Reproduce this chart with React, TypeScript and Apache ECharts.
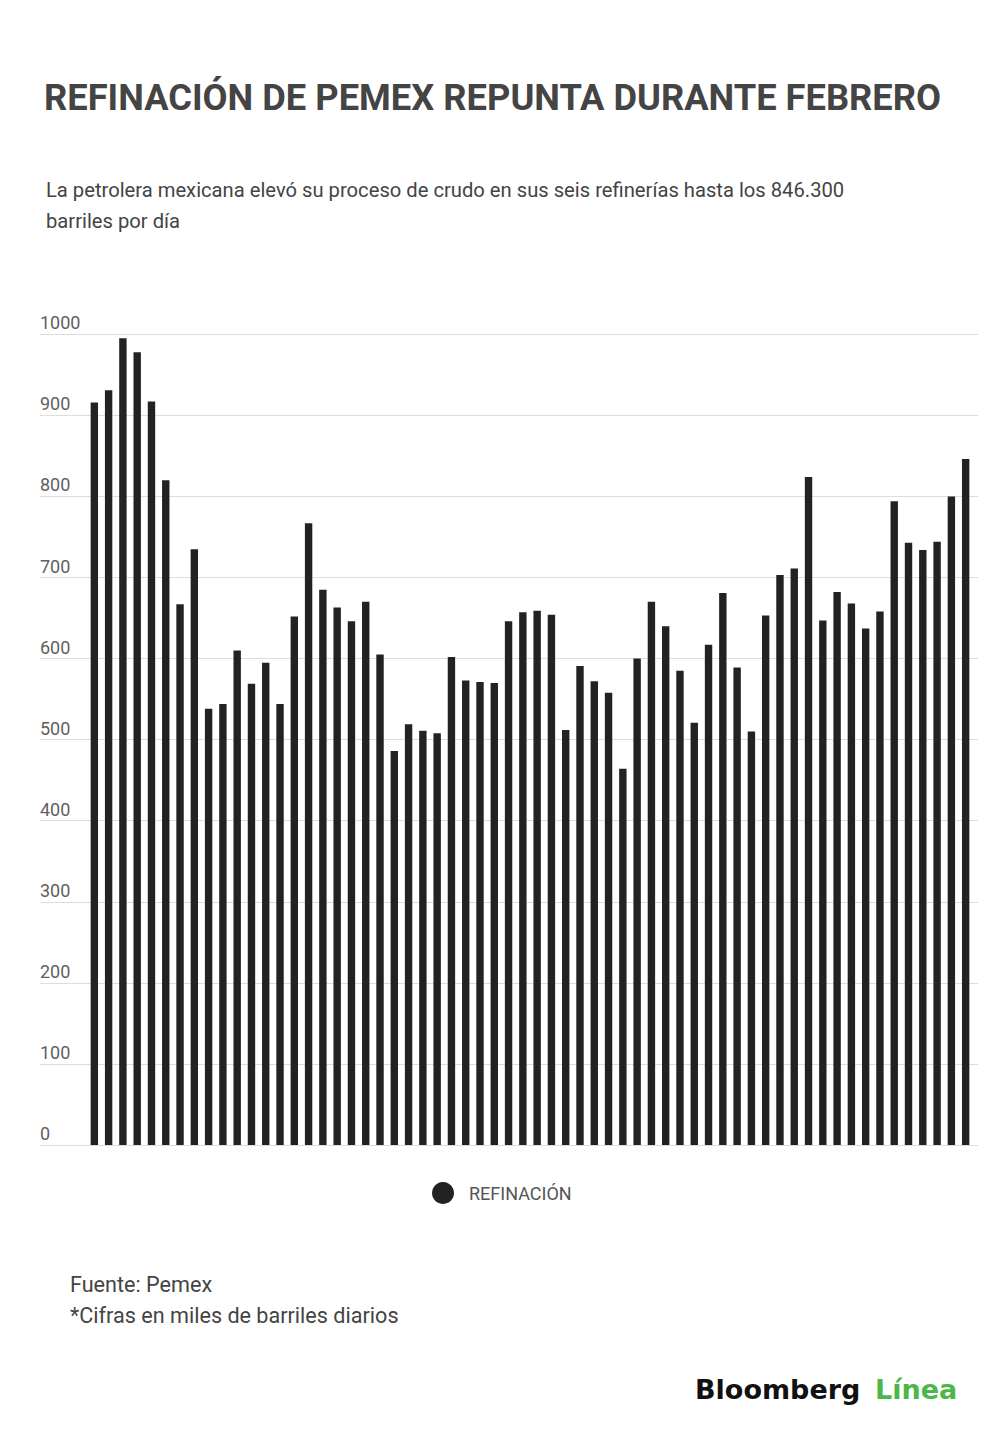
import React, { useEffect, useRef } from "react";
import * as echarts from "echarts";

// Pemex crude processing, thousands of barrels per day, Jan 2017 - Feb 2022
const years = ["2017", "2018", "2019", "2020", "2021", "2022"];
const monthsShort = ["ene", "feb", "mar", "abr", "may", "jun", "jul", "ago", "sep", "oct", "nov", "dic"];

const v2017 = [916, 931, 995, 978, 917, 820, 667, 735, 538, 544, 610, 569];
const v2018 = [595, 544, 652, 767, 685, 663, 646, 670, 605, 486, 519, 511];
const v2019 = [508, 602, 573, 571, 570, 646, 657, 659, 654, 512, 591, 572];
const v2020 = [558, 464, 600, 670, 640, 585, 521, 617, 681, 589, 510, 653];
const v2021 = [703, 711, 824, 647, 682, 668, 637, 658, 794, 743, 734, 744];
const v2022 = [800, 846.3];

const yearValues = [v2017, v2018, v2019, v2020, v2021, v2022];

const yTicks = [0, 100, 200, 300, 400, 500, 600, 700, 800, 900, 1000];

const seriesName = "REFINACIÓN";
const titleText = "REFINACIÓN DE PEMEX REPUNTA DURANTE FEBRERO";
const subtitleLines = [
  "La petrolera mexicana elevó su proceso de crudo en sus seis refinerías hasta los 846.300",
  "barriles por día",
];
const footerLines = ["Fuente: Pemex", "*Cifras en miles de barriles diarios"];

const categories: string[] = [];
const values: number[] = [];
yearValues.forEach((arr, yi) => {
  arr.forEach((v, mi) => {
    categories.push(`${monthsShort[mi]} ${years[yi]}`);
    values.push(v);
  });
});

// central-baseline helper: y for "middle" vertical align given desired baseline
const mid = (baseline: number, fs: number, k = 0.342) => baseline - k * fs;

export default function App() {
  const ref = useRef<HTMLDivElement | null>(null);

  useEffect(() => {
    if (!ref.current) return;
    const chart = echarts.init(ref.current, undefined, { renderer: "svg" });
    const font = "Roboto";
    const plotTop = 334.3;
    const plotHeight = 1145 - 334.3;

    chart.setOption({
      animation: false,
      backgroundColor: "#ffffff",
      grid: [
        { left: 40, top: plotTop, width: 938, height: plotHeight },
        { left: 87.2, top: plotTop, width: 885.6, height: plotHeight },
      ],
      xAxis: [
        { gridIndex: 0, type: "value", min: 0, max: 1, show: false },
        {
          gridIndex: 1,
          type: "category",
          data: categories,
          show: false,
          boundaryGap: true,
        },
      ],
      yAxis: [
        {
          gridIndex: 0,
          type: "value",
          min: yTicks[0],
          max: yTicks[yTicks.length - 1],
          interval: 100,
          axisLine: { show: false },
          axisTick: { show: false },
          splitLine: { show: true, lineStyle: { color: "#dddddd", width: 1 } },
          axisLabel: {
            inside: true,
            margin: 0,
            align: "left",
            verticalAlign: "bottom",
            lineHeight: 23,
            fontSize: 18,
            fontFamily: font,
            color: "#5f5f5f",
            formatter: (v: number) => String(v),
          },
        },
        {
          gridIndex: 1,
          type: "value",
          min: yTicks[0],
          max: yTicks[yTicks.length - 1],
          show: false,
          splitLine: { show: false },
        },
      ],
      legend: {
        data: [{ name: seriesName, icon: "circle" }],
        left: 432,
        top: 1182,
        padding: 0,
        itemWidth: 42,
        itemHeight: 22,
        selectedMode: false,
        textStyle: { fontSize: 18, color: "#555555", fontFamily: font },
      },
      series: [
        {
          name: seriesName,
          type: "bar",
          xAxisIndex: 1,
          yAxisIndex: 1,
          data: values,
          barWidth: 7.4,
          itemStyle: { color: "#222222" },
        },
      ],
      graphic: [
        {
          type: "text",
          x: 44,
          y: mid(110, 36.3),
          style: {
            text: titleText,
            fill: "#444444",
            font: `bold 36.3px ${font}`,
            textAlign: "left",
            textVerticalAlign: "middle",
          },
        },
        ...subtitleLines.map((t, i) => ({
          type: "text",
          x: 46,
          y: mid(197 + i * 31, 20.2),
          style: {
            text: t,
            fill: "#444444",
            font: `20.2px ${font}`,
            textAlign: "left",
            textVerticalAlign: "middle",
          },
        })),
        ...footerLines.map((t, i) => ({
          type: "text",
          x: 70,
          y: mid(1292 + i * 31, 21.6),
          style: {
            text: t,
            fill: "#444444",
            font: `21.6px ${font}`,
            textAlign: "left",
            textVerticalAlign: "middle",
          },
        })),
        {
          type: "text",
          x: 695,
          y: mid(1399, 27, 0.346),
          style: {
            text: "Bloomberg",
            fill: "#111111",
            font: `bold 27px "DejaVu Sans"`,
            textAlign: "left",
            textVerticalAlign: "middle",
          },
        },
        {
          type: "text",
          x: 875,
          y: mid(1399, 27, 0.346),
          style: {
            text: "Línea",
            fill: "#4cb748",
            font: `bold 27px "DejaVu Sans"`,
            textAlign: "left",
            textVerticalAlign: "middle",
          },
        },
      ],
    });

    return () => {
      chart.dispose();
    };
  }, []);

  return (
    <div
      ref={ref}
      style={{ position: "absolute", left: 0, top: 0, width: 1000, height: 1438 }}
    />
  );
}
